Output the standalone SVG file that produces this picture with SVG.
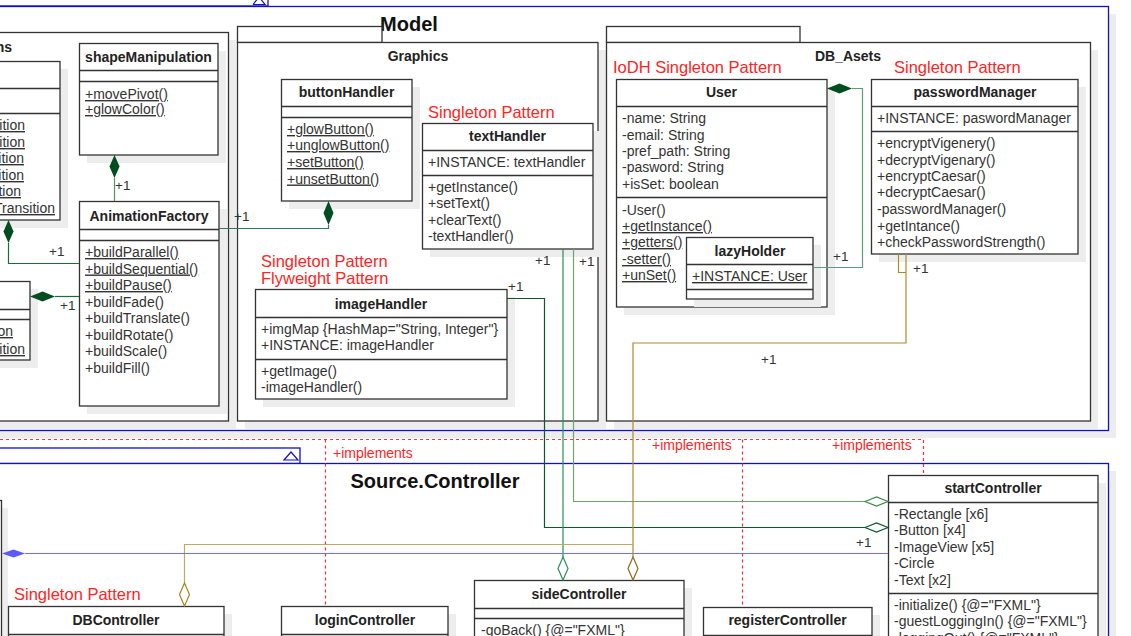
<svg xmlns="http://www.w3.org/2000/svg" width="1131" height="636" viewBox="0 0 1131 636">
  <style>
    .frame { fill: #fff; stroke: #1010c8; stroke-width: 1.3; }
    .pkg { fill: #fff; stroke: #333; stroke-width: 1.3; }
    .box { fill: #fff; stroke: #333; stroke-width: 1.3; }
    .sep { stroke: #333; stroke-width: 1.3; }
    .sh { fill: #ededed; }
    .title { font: bold 14px "Liberation Sans", Arial, sans-serif; fill: #222; text-anchor: middle; }
    .big { font: bold 20px "Liberation Sans", Arial, sans-serif; fill: #111; text-anchor: middle; }
    .m { font: 14px "Liberation Sans", Arial, sans-serif; fill: #333; }
    .u { text-decoration: underline; }
    .end { text-anchor: end; }
    .note { font: 16.5px "Liberation Sans", Arial, sans-serif; fill: #ff2424; }
    .impl { font: 14px "Liberation Sans", Arial, sans-serif; fill: #ff2424; }
    .mult { font: 13.5px "Liberation Sans", Arial, sans-serif; fill: #333; }
    .dash { fill: none; stroke: #ff3030; stroke-width: 1.2; stroke-dasharray: 3 3; }
    .conn { fill: none; stroke-width: 1.2; }
  </style>

  <!-- Model package frame -->
  <g id="model">
    <rect class="sh" x="-2" y="14" width="1118" height="424"/>
    <rect class="frame" x="-10" y="-10" width="278" height="16"/>
    <polyline points="253,4.5 259,-3 265,4.5 253,4.5" fill="none" stroke="#1010c8" stroke-width="1.2"/>
    <rect class="frame" x="-10" y="6.5" width="1118.5" height="424"/>
    <text class="big" x="409" y="31">Model</text>
  </g>

  <!-- left animation package (partially off-canvas) -->
  <g id="pkg-animations">
    <rect class="sh" x="-2" y="40" width="238" height="389"/>
    <rect class="pkg" x="-10" y="32.5" width="238.5" height="388.5"/>
    <text class="title end" x="12" y="52">ns</text>
  </g>

  <g id="pkg-graphics">
    <rect class="sh" x="245" y="50" width="361" height="379"/>
    <rect class="pkg" x="237.5" y="26.5" width="144.5" height="16"/>
    <rect class="pkg" x="237.5" y="42.5" width="360.5" height="378.5"/>
    <text class="title" x="418" y="61">Graphics</text>
  </g>

  <g id="pkg-dbasets">
    <rect class="sh" x="614" y="50" width="484" height="379"/>
    <rect class="pkg" x="606.5" y="26.5" width="193.5" height="16"/>
    <rect class="pkg" x="606.5" y="42.5" width="484" height="378.5"/>
    <text class="title" x="848" y="61">DB_Asets</text>
  </g>

  <!-- Source.Controller package frame -->
  <g id="source-controller">
    <rect class="sh" x="-2" y="471" width="1118" height="180"/>
    <rect class="frame" x="-10" y="448" width="310" height="15.5"/>
    <polygon points="284,460 291,452 298,460" fill="none" stroke="#1010c8" stroke-width="1.2"/>
    <rect class="frame" x="-10" y="463.5" width="1118.5" height="190"/>
    <text class="big" x="435" y="488">Source.Controller</text>
  </g>

  <!-- classes of the animation package -->
  <g id="cls-transitions">
    <rect class="sh" x="-12" y="69" width="80" height="159"/>
    <rect class="box" x="-20" y="61.5" width="80" height="158.5"/>
    <line class="sep" x1="-20" y1="88.5" x2="60" y2="88.5"/>
    <line class="sep" x1="-20" y1="113.5" x2="60" y2="113.5"/>
    <text class="m u end" x="25" y="130">ition</text>
    <text class="m u end" x="25" y="147">ition</text>
    <text class="m u end" x="24" y="163">ition</text>
    <text class="m u end" x="24" y="180">ition</text>
    <text class="m u end" x="21" y="196">tion</text>
    <text class="m u end" x="55" y="213">Transition</text>
  </g>

  <g id="cls-transitions2">
    <rect class="sh" x="-12" y="289" width="50" height="79"/>
    <rect class="box" x="-20" y="281.5" width="50" height="78.5"/>
    <line class="sep" x1="-20" y1="309.5" x2="30" y2="309.5"/>
    <line class="sep" x1="-20" y1="319.5" x2="30" y2="319.5"/>
    <text class="m u end" x="13" y="336">on</text>
    <text class="m u end" x="25" y="354">ition</text>
  </g>

  <g id="cls-shapeManipulation">
    <rect class="sh" x="87" y="51" width="139" height="112"/>
    <rect class="box" x="79.5" y="43.5" width="138.5" height="111.5"/>
    <line class="sep" x1="79.5" y1="70.5" x2="218" y2="70.5"/>
    <line class="sep" x1="79.5" y1="81.5" x2="218" y2="81.5"/>
    <text class="title" x="148.5" y="62">shapeManipulation</text>
    <text class="m u" x="85" y="99">+movePivot()</text>
    <text class="m u" x="85" y="114">+glowColor()</text>
  </g>

  <g id="cls-AnimationFactory">
    <rect class="sh" x="87" y="209" width="140" height="205"/>
    <rect class="box" x="79.5" y="201.5" width="139.5" height="204.5"/>
    <line class="sep" x1="79.5" y1="229.5" x2="219" y2="229.5"/>
    <line class="sep" x1="79.5" y1="240.5" x2="219" y2="240.5"/>
    <text class="title" x="149" y="221">AnimationFactory</text>
    <text class="m u" x="85" y="257">+buildParallel()</text>
    <text class="m u" x="85" y="273.5">+buildSequential()</text>
    <text class="m u" x="85" y="290">+buildPause()</text>
    <text class="m" x="85" y="306.5">+buildFade()</text>
    <text class="m" x="85" y="323">+buildTranslate()</text>
    <text class="m" x="85" y="339.5">+buildRotate()</text>
    <text class="m" x="85" y="356">+buildScale()</text>
    <text class="m" x="85" y="372.5">+buildFill()</text>
  </g>

  <!-- Graphics classes -->
  <g id="cls-buttonHandler">
    <rect class="sh" x="289" y="87" width="131" height="122"/>
    <rect class="box" x="281.5" y="79.5" width="130.5" height="121.5"/>
    <line class="sep" x1="281.5" y1="106.5" x2="412" y2="106.5"/>
    <line class="sep" x1="281.5" y1="117.5" x2="412" y2="117.5"/>
    <text class="title" x="346.5" y="97">buttonHandler</text>
    <text class="m u" x="287" y="134">+glowButton()</text>
    <text class="m u" x="287" y="150">+unglowButton()</text>
    <text class="m u" x="287" y="167">+setButton()</text>
    <text class="m u" x="287" y="183.5">+unsetButton()</text>
  </g>

  <g id="cls-textHandler">
    <text class="note" x="428" y="118">Singleton Pattern</text>
    <rect class="sh" x="430" y="131" width="171" height="126"/>
    <rect class="box" x="422.5" y="123.5" width="170.5" height="125.5"/>
    <line class="sep" x1="422.5" y1="150.5" x2="593" y2="150.5"/>
    <line class="sep" x1="422.5" y1="175.5" x2="593" y2="175.5"/>
    <text class="title" x="507.5" y="141">textHandler</text>
    <text class="m" x="428" y="166.5">+INSTANCE: textHandler</text>
    <text class="m" x="428" y="192">+getInstance()</text>
    <text class="m" x="428" y="208">+setText()</text>
    <text class="m" x="428" y="224.5">+clearText()</text>
    <text class="m" x="428" y="240.5">-textHandler()</text>
  </g>

  <g id="cls-imageHandler">
    <text class="note" x="261" y="267">Singleton Pattern</text>
    <text class="note" x="261" y="284">Flyweight Pattern</text>
    <rect class="sh" x="263" y="297" width="252" height="110"/>
    <rect class="box" x="255.5" y="289.5" width="251.5" height="109.5"/>
    <line class="sep" x1="255.5" y1="317.5" x2="507" y2="317.5"/>
    <line class="sep" x1="255.5" y1="359.5" x2="507" y2="359.5"/>
    <text class="title" x="381" y="309">imageHandler</text>
    <text class="m" x="261" y="334">+imgMap {HashMap="String, Integer"}</text>
    <text class="m" x="261" y="350">+INSTANCE: imageHandler</text>
    <text class="m" x="261" y="375.5">+getImage()</text>
    <text class="m" x="261" y="392">-imageHandler()</text>
  </g>

  <!-- DB_Asets classes -->
  <g id="cls-User">
    <text class="note" x="613" y="73">IoDH Singleton Pattern</text>
    <rect class="sh" x="624" y="87" width="211" height="228"/>
    <rect class="box" x="616.5" y="79.5" width="210.5" height="227.5"/>
    <line class="sep" x1="616.5" y1="106.5" x2="827" y2="106.5"/>
    <line class="sep" x1="616.5" y1="197.5" x2="827" y2="197.5"/>
    <text class="title" x="721.5" y="97">User</text>
    <text class="m" x="622" y="123">-name: String</text>
    <text class="m" x="622" y="139.5">-email: String</text>
    <text class="m" x="622" y="156">-pref_path: String</text>
    <text class="m" x="622" y="172">-pasword: String</text>
    <text class="m" x="622" y="189">+isSet: boolean</text>
    <text class="m" x="622" y="214.5">-User()</text>
    <text class="m u" x="622" y="231">+getInstance()</text>
    <text class="m u" x="622" y="247">+getters()</text>
    <text class="m u" x="622" y="264">-setter()</text>
    <text class="m u" x="622" y="280">+unSet()</text>
  </g>

  <g id="cls-lazyHolder">
    <rect class="sh" x="694" y="245" width="127" height="62"/>
    <rect class="box" x="686.5" y="237.5" width="126.5" height="61.5"/>
    <line class="sep" x1="686.5" y1="264.5" x2="813" y2="264.5"/>
    <line class="sep" x1="686.5" y1="289.5" x2="813" y2="289.5"/>
    <text class="title" x="750" y="255.5">lazyHolder</text>
    <text class="m u" x="692" y="281">+INSTANCE: User</text>
  </g>

  <g id="cls-passwordManager">
    <text class="note" x="894" y="73">Singleton Pattern</text>
    <rect class="sh" x="879" y="87" width="207" height="175"/>
    <rect class="box" x="871.5" y="79.5" width="206.5" height="174.5"/>
    <line class="sep" x1="871.5" y1="106.5" x2="1078" y2="106.5"/>
    <line class="sep" x1="871.5" y1="131.5" x2="1078" y2="131.5"/>
    <text class="title" x="975" y="97">passwordManager</text>
    <text class="m" x="877" y="123">+INSTANCE: paswordManager</text>
    <text class="m" x="877" y="148">+encryptVigenery()</text>
    <text class="m" x="877" y="164.5">+decryptVigenary()</text>
    <text class="m" x="877" y="181">+encryptCaesar()</text>
    <text class="m" x="877" y="197">+decryptCaesar()</text>
    <text class="m" x="877" y="214">-passwordManager()</text>
    <text class="m" x="877" y="230.5">+getIntance()</text>
    <text class="m" x="877" y="247">+checkPasswordStrength()</text>
  </g>

  <!-- Source.Controller classes -->
  <g id="cls-left-edge">
    <rect class="sh" x="-12" y="508" width="20" height="140"/>
    <rect class="box" x="-20" y="500.5" width="21.5" height="150"/>
  </g>

  <g id="cls-DBController">
    <text class="note" x="14" y="600">Singleton Pattern</text>
    <rect class="sh" x="16" y="614" width="216" height="40"/>
    <rect class="box" x="8.5" y="606.5" width="215.5" height="40"/>
    <line class="sep" x1="8.5" y1="634.5" x2="224" y2="634.5"/>
    <text class="title" x="116" y="625">DBController</text>
  </g>

  <g id="cls-loginController">
    <rect class="sh" x="289" y="614" width="167" height="40"/>
    <rect class="box" x="281.5" y="606.5" width="166.5" height="40"/>
    <line class="sep" x1="281.5" y1="634.5" x2="448" y2="634.5"/>
    <text class="title" x="365" y="625">loginController</text>
  </g>

  <g id="cls-sideController">
    <rect class="sh" x="482" y="588" width="210" height="60"/>
    <rect class="box" x="474.5" y="580.5" width="209.5" height="60"/>
    <line class="sep" x1="474.5" y1="608.5" x2="684" y2="608.5"/>
    <line class="sep" x1="474.5" y1="618.5" x2="684" y2="618.5"/>
    <text class="title" x="579" y="599">sideController</text>
    <text class="m" x="481" y="635">-goBack() {@="FXML"}</text>
  </g>

  <g id="cls-registerController">
    <rect class="sh" x="711" y="615" width="169" height="40"/>
    <rect class="box" x="703.5" y="607.5" width="168.5" height="40"/>
    <line class="sep" x1="703.5" y1="635.5" x2="872" y2="635.5"/>
    <text class="title" x="787.5" y="625">registerController</text>
  </g>

  <g id="cls-startController">
    <rect class="sh" x="896" y="483" width="210" height="170"/>
    <rect class="box" x="888.5" y="475.5" width="209.5" height="170"/>
    <line class="sep" x1="888.5" y1="502.5" x2="1098" y2="502.5"/>
    <line class="sep" x1="888.5" y1="593.5" x2="1098" y2="593.5"/>
    <text class="title" x="993" y="493">startController</text>
    <text class="m" x="894" y="519">-Rectangle [x6]</text>
    <text class="m" x="894" y="535">-Button [x4]</text>
    <text class="m" x="894" y="552">-ImageView [x5]</text>
    <text class="m" x="894" y="568">-Circle</text>
    <text class="m" x="894" y="584.5">-Text [x2]</text>
    <text class="m" x="894" y="609.5">-initialize() {@="FXML"}</text>
    <text class="m" x="894" y="626">-guestLoggingIn() {@="FXML"}</text>
    <text class="m" x="894" y="642.5">-loggingOut() {@="FXML"}</text>
  </g>

  <!-- connectors -->
  <g id="connectors">
    <!-- realisations -->
    <path class="dash" d="M0,439.5 H923.5 V475"/>
    <path class="dash" d="M325.5,439.5 V606"/>
    <path class="dash" d="M742.5,439.5 V607"/>
    <text class="impl" x="333" y="458">+implements</text>
    <text class="impl" x="652" y="450">+implements</text>
    <text class="impl" x="832" y="450">+implements</text>

    <!-- compositions inside Model -->
    <path class="conn" stroke="#1d6a3a" d="M8.5,243 V263.5 H79"/>
    <polygon points="8.5,220 13.5,231.5 8.5,243 3.5,231.5" fill="#004d1f"/>
    <text class="mult" x="49" y="256">+1</text>

    <path class="conn" stroke="#1d6a3a" d="M55,296.5 H79"/>
    <polygon points="30,296.5 42.5,291.5 55,296.5 42.5,301.5" fill="#004d1f"/>
    <text class="mult" x="60" y="310">+1</text>

    <path class="conn" stroke="#4f8f6a" d="M114.5,178 V201"/>
    <polygon points="114.5,155 119.5,166.5 114.5,178 109.5,166.5" fill="#004d1f"/>
    <text class="mult" x="115" y="190">+1</text>

    <path class="conn" stroke="#2f7a52" d="M219,228.5 H328.5 V225"/>
    <polygon points="328.5,201 333.5,213 328.5,225 323.5,213" fill="#004d1f"/>
    <text class="mult" x="234" y="221">+1</text>

    <path class="conn" stroke="#5e9c7c" d="M813,267.5 H862.5 V88.5 H852"/>
    <polygon points="827,88.5 839.5,83.5 852,88.5 839.5,93.5" fill="#004d1f"/>
    <text class="mult" x="833" y="261">+1</text>

    <!-- aggregations into the controllers -->
    <path class="conn" stroke="#0b5a2c" d="M507,298.5 H544.5 V527.5 H865"/>
    <polygon points="865,527.5 876.5,523 888,527.5 876.5,532" fill="#fff" stroke="#0b5a2c" stroke-width="1.2"/>
    <text class="mult" x="508" y="291">+1</text>

    <path class="conn" stroke="#6fa46f" d="M573.5,249 V501.5 H865"/>
    <polygon points="865,501.5 876.5,497 888,501.5 876.5,506" fill="#fff" stroke="#3c8a4c" stroke-width="1.2"/>
    <text class="mult" x="579" y="266">+1</text>

    <path class="conn" stroke="#2a8d5c" d="M563,249 V557"/>
    <polygon points="563,557 568,568.5 563,580 558,568.5" fill="#fff" stroke="#2a8d5c" stroke-width="1.2"/>
    <text class="mult" x="535" y="265">+1</text>

    <path class="conn" stroke="#ad8a2a" d="M898.5,254 V272.5 H906"/>
    <path class="conn" stroke="#ad8a2a" d="M906,254 V343 H633 V557"/>
    <polygon points="633,557 638,568.5 633,580 628,568.5" fill="#fff" stroke="#8b6914" stroke-width="1.2"/>
    <text class="mult" x="913" y="273">+1</text>
    <text class="mult" x="761" y="364">+1</text>

    <path class="conn" stroke="#c2a862" d="M633,544.5 H184.5 V583"/>
    <polygon points="184.5,583 189.5,594.5 184.5,606 179.5,594.5" fill="#fff" stroke="#a8841e" stroke-width="1.2"/>

    <path class="conn" stroke="#6f6fff" d="M888,553.5 H25"/>
    <polygon points="2,553.5 13.5,549.5 25,553.5 13.5,557.5" fill="#5a5aff"/>
    <text class="mult" x="856" y="547">+1</text>
  </g>
</svg>
